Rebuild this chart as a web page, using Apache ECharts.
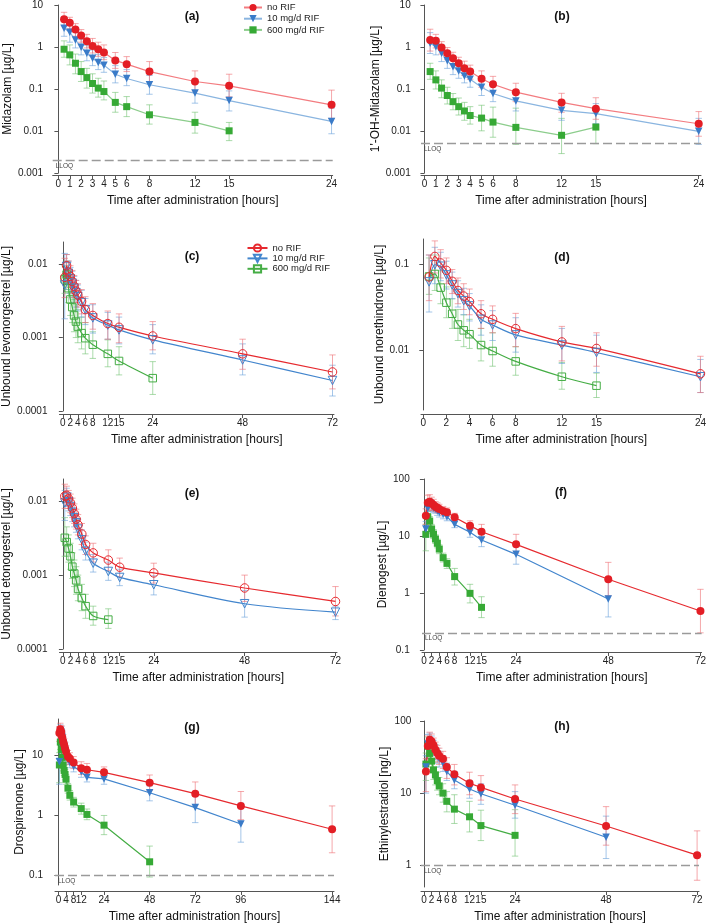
<!DOCTYPE html>
<html><head><meta charset="utf-8">
<script src="https://cdn.jsdelivr.net/npm/echarts@6/dist/echarts.min.js"></script>
<style>html,body{margin:0;padding:0;background:#fff}#c{width:709px;height:924px}</style>
</head><body><div id="c"></div>
<script>
// ---------------- DATA ----------------
const seriesNames = ['no RIF', '10 mg/d RIF', '600 mg/d RIF'];
const panelLabels = ['(a)', '(b)', '(c)', '(d)', '(e)', '(f)', '(g)', '(h)'];
const yNames = ['Midazolam [µg/L]', '1\'-OH-Midazolam [µg/L]', 'Unbound levonorgestrel [µg/L]', 'Unbound norethindrone [µg/L]',
  'Unbound etonogestrel [µg/L]', 'Dienogest [µg/L]', 'Drospirenone [µg/L]', 'Ethinylestradiol [ng/L]'];
const xName = 'Time after administration [hours]';
const LLOQ = [0.002, 0.005, null, null, null, 0.2, 0.1, 1];

const xTicks_ab = [0, 1, 2, 3, 4, 5, 6, 8, 12, 15, 24];
const xTicks_d = [0, 2, 4, 6, 8, 12, 15, 24];
const xTicks_72 = [0, 2, 4, 6, 8, 12, 15, 24, 48, 72];
const xTicks_g = [0, 4, 8, 12, 24, 48, 72, 96, 144];
const yTicks_ab = [0.001, 0.01, 0.1, 1, 10];
const yTicks_ce = [0.0001, 0.001, 0.01];
const yTicks_d = [0.01, 0.1];
const yTicks_f = [0.1, 1, 10, 100];
const yTicks_g = [0.1, 1, 10];
const yTicks_h = [1, 10, 100];

const t_ab = [0.5, 1, 1.5, 2, 2.5, 3, 3.5, 4, 5, 6, 8, 12, 15, 24];
const t_d = [0.5, 1, 1.5, 2, 2.5, 3, 3.5, 4, 5, 6, 8, 12, 15, 24];
const t_72 = [0.5, 1, 1.5, 2, 2.5, 3, 3.5, 4, 5, 6, 8, 12, 15, 24, 48, 72];
const t_g = [0.5, 1, 1.5, 2, 2.5, 3, 3.5, 4, 5, 6, 8, 12, 15, 24, 48, 72, 96, 144];

// (a) Midazolam
const A_red = [4.6, 3.8, 2.6, 1.87, 1.37, 1.06, 0.885, 0.74, 0.48, 0.39, 0.26, 0.151, 0.119, 0.042];
const A_redLo = [3.2, 2.7, 1.8, 1.3, 0.95, 0.72, 0.6, 0.5, 0.31, 0.26, 0.15, 0.09, 0.065, 0.02];
const A_redHi = [6.7, 5.1, 3.6, 2.6, 2.0, 1.6, 1.3, 1.12, 0.74, 0.59, 0.45, 0.27, 0.225, 0.094];
const A_blue = [2.8, 2.24, 1.47, 0.99, 0.71, 0.54, 0.43, 0.37, 0.224, 0.178, 0.126, 0.080, 0.053, 0.0169];
const A_blueLo = [1.8, 1.3, 0.95, 0.65, 0.47, 0.36, 0.29, 0.25, 0.14, 0.12, 0.075, 0.046, 0.03, 0.0086];
const A_blueHi = [4.3, 3.5, 2.3, 1.5, 1.1, 0.85, 0.67, 0.56, 0.36, 0.29, 0.21, 0.135, 0.09, 0.035];
const A_green = [0.885, 0.65, 0.41, 0.26, 0.187, 0.135, 0.105, 0.087, 0.048, 0.038, 0.0243, 0.016, 0.0101];
const A_greenLo = [0.57, 0.375, 0.23, 0.151, 0.105, 0.08, 0.064, 0.055, 0.028, 0.022, 0.0146, 0.0089, 0.0059];
const A_greenHi = [1.4, 1.12, 0.68, 0.45, 0.31, 0.23, 0.18, 0.155, 0.083, 0.066, 0.042, 0.028, 0.016];

// (b) 1'-OH-Midazolam
const B_red = [1.47, 1.40, 0.97, 0.71, 0.54, 0.41, 0.31, 0.26, 0.175, 0.13, 0.084, 0.048, 0.034, 0.0149];
const B_redLo = [0.8, 0.95, 0.68, 0.5, 0.38, 0.29, 0.21, 0.17, 0.11, 0.085, 0.05, 0.028, 0.019, 0.0075];
const B_redHi = [2.65, 2.0, 1.34, 0.97, 0.75, 0.57, 0.46, 0.37, 0.27, 0.2, 0.137, 0.079, 0.062, 0.029];
const B_blue = [1.23, 1.02, 0.71, 0.47, 0.34, 0.27, 0.205, 0.17, 0.11, 0.078, 0.052, 0.031, 0.026, 0.0098];
const B_blueLo = [0.7, 0.65, 0.45, 0.31, 0.22, 0.18, 0.14, 0.11, 0.07, 0.05, 0.03, 0.018, 0.015, 0.0048];
const B_blueHi = [2.2, 1.6, 1.1, 0.72, 0.52, 0.4, 0.3, 0.25, 0.17, 0.12, 0.085, 0.05, 0.045, 0.02];
const B_green = [0.26, 0.165, 0.105, 0.070, 0.050, 0.038, 0.030, 0.0234, 0.0203, 0.0163, 0.0122, 0.0079, 0.0124];
const B_greenLo = [0.17, 0.1, 0.062, 0.044, 0.032, 0.024, 0.018, 0.0146, 0.0101, 0.0071, 0.0048, 0.0029, 0.005];
const B_greenHi = [0.41, 0.27, 0.165, 0.11, 0.078, 0.061, 0.048, 0.038, 0.041, 0.037, 0.035, 0.02, 0.027];

// (c) Unbound levonorgestrel
const C_red = [0.0066, 0.0095, 0.0078, 0.0068, 0.0058, 0.0050, 0.0043, 0.0038, 0.0031, 0.0024, 0.0020, 0.00155, 0.00138, 0.00105, 0.0006, 0.00034];
const C_redLo = [0.0035, 0.0065, 0.0055, 0.0048, 0.004, 0.0035, 0.003, 0.0026, 0.0021, 0.0016, 0.0013, 0.00095, 0.00085, 0.00068, 0.00037, 0.0002];
const C_redHi = [0.012, 0.0135, 0.011, 0.0095, 0.0082, 0.007, 0.006, 0.0054, 0.0045, 0.0036, 0.0029, 0.0023, 0.0021, 0.00165, 0.00095, 0.00058];
const C_blue = [0.0052, 0.0093, 0.0075, 0.0063, 0.0055, 0.0047, 0.0041, 0.0036, 0.0030, 0.0024, 0.00185, 0.00148, 0.00127, 0.00093, 0.000495, 0.00026];
const C_blueLo = [0.0018, 0.0055, 0.0045, 0.004, 0.0035, 0.003, 0.0026, 0.0023, 0.0019, 0.0015, 0.00115, 0.00095, 0.00082, 0.0006, 0.00031, 0.00016];
const C_blueHi = [0.014, 0.0135, 0.011, 0.009, 0.008, 0.0068, 0.006, 0.0052, 0.0044, 0.0034, 0.0028, 0.0022, 0.0019, 0.0015, 0.00082, 0.00042];
const C_green = [0.0062, 0.0072, 0.0047, 0.0033, 0.0026, 0.0020, 0.00165, 0.00141, 0.00115, 0.00098, 0.0008, 0.0006, 0.00048, 0.00028];
const C_greenLo = [0.004, 0.0045, 0.003, 0.002, 0.0016, 0.0012, 0.001, 0.00085, 0.0007, 0.0006, 0.00052, 0.0004, 0.00031, 0.000168];
const C_greenHi = [0.0095, 0.011, 0.0075, 0.0055, 0.0042, 0.0033, 0.0028, 0.0024, 0.0019, 0.0016, 0.0012, 0.00093, 0.00075, 0.00047];

// (d) Unbound norethindrone
const D_red = [0.072, 0.125, 0.105, 0.086, 0.064, 0.05, 0.043, 0.037, 0.0267, 0.023, 0.0179, 0.0125, 0.0105, 0.0053];
const D_redLo = [0.038, 0.08, 0.07, 0.06, 0.046, 0.035, 0.03, 0.026, 0.018, 0.016, 0.011, 0.0075, 0.0065, 0.0032];
const D_redHi = [0.13, 0.19, 0.15, 0.12, 0.088, 0.07, 0.06, 0.052, 0.038, 0.033, 0.027, 0.019, 0.016, 0.0085];
const D_blue = [0.063, 0.1, 0.096, 0.076, 0.058, 0.046, 0.038, 0.033, 0.023, 0.0197, 0.0151, 0.0115, 0.0094, 0.0049];
const D_blueLo = [0.028, 0.06, 0.065, 0.052, 0.04, 0.032, 0.026, 0.022, 0.015, 0.013, 0.0095, 0.007, 0.0055, 0.0032];
const D_blueHi = [0.13, 0.16, 0.14, 0.11, 0.082, 0.065, 0.053, 0.046, 0.034, 0.029, 0.024, 0.018, 0.015, 0.0078];
const D_green = [0.073, 0.078, 0.054, 0.036, 0.0267, 0.02, 0.0171, 0.0154, 0.0115, 0.0098, 0.0074, 0.0049, 0.00385];
const D_greenLo = [0.045, 0.05, 0.035, 0.024, 0.018, 0.013, 0.011, 0.0105, 0.0075, 0.0065, 0.0051, 0.0035, 0.0028];
const D_greenHi = [0.12, 0.13, 0.085, 0.055, 0.04, 0.03, 0.026, 0.023, 0.018, 0.016, 0.011, 0.0072, 0.0054];

// (e) Unbound etonogestrel
const E_red = [0.0117, 0.012, 0.0108, 0.0095, 0.0081, 0.0068, 0.0057, 0.0048, 0.0036, 0.0026, 0.002, 0.0016, 0.00128, 0.00107, 0.00067, 0.00044];
const E_redLo = [0.008, 0.0088, 0.008, 0.007, 0.006, 0.005, 0.0042, 0.0035, 0.0026, 0.0019, 0.0015, 0.00115, 0.00095, 0.00078, 0.00044, 0.00028];
const E_redHi = [0.017, 0.016, 0.014, 0.0125, 0.011, 0.0092, 0.0078, 0.0066, 0.005, 0.0034, 0.0027, 0.0022, 0.0017, 0.00145, 0.001, 0.0007];
const E_blue = [0.0095, 0.0113, 0.0098, 0.0085, 0.0071, 0.006, 0.0051, 0.0042, 0.003, 0.0021, 0.00145, 0.00112, 0.00093, 0.00074, 0.00041, 0.000315];
const E_blueLo = [0.0055, 0.0085, 0.0074, 0.0064, 0.0053, 0.0045, 0.0038, 0.0031, 0.0022, 0.0016, 0.0011, 0.00085, 0.00072, 0.00054, 0.00027, 0.00025];
const E_blueHi = [0.014, 0.015, 0.013, 0.011, 0.0095, 0.008, 0.0068, 0.0057, 0.0041, 0.0028, 0.0019, 0.0015, 0.0012, 0.00098, 0.00062, 0.00038];
const E_green = [0.0032, 0.0028, 0.0023, 0.0018, 0.0013, 0.00105, 0.00085, 0.00065, 0.00049, 0.00038, 0.00028, 0.00025];
const E_greenLo = [0.0018, 0.0018, 0.0015, 0.0012, 0.0009, 0.0007, 0.00055, 0.00045, 0.00033, 0.00026, 0.00021, 0.00019];
const E_greenHi = [0.006, 0.0045, 0.0035, 0.0027, 0.002, 0.0016, 0.0013, 0.001, 0.00075, 0.00055, 0.00038, 0.00035];

// (f) Dienogest
const F_red = [22.7, 38.5, 40, 37.5, 35, 32.6, 31.4, 29.8, 27.5, 26, 21.3, 15.2, 11.9, 7.14, 1.74, 0.483];
const F_redLo = [16, 28, 30, 29, 28, 27, 26, 25, 23, 22, 18, 12.5, 9.5, 5.0, 0.9, 0.2];
const F_redHi = [30, 52, 53, 48, 44, 40, 38, 36, 33, 31, 25, 18.5, 16, 10.7, 3.45, 1.16];
const F_blue = [13.3, 30.6, 35.9, 34, 31.4, 29.8, 27.8, 26, 24, 21.8, 16, 11.6, 8.5, 4.77, 0.785];
const F_blueLo = [9.5, 23, 28, 27, 26, 25, 23, 21.5, 20, 18.5, 14, 9.5, 6.5, 3.2, 0.38];
const F_blueHi = [18, 40, 45, 42, 38, 36, 33, 31, 28, 25, 18.5, 13.5, 10.5, 6.5, 1.6];
const F_green = [10.7, 21.8, 18.3, 13.3, 10.8, 8.86, 7.45, 5.9, 4.17, 3.31, 1.94, 0.986, 0.56];
const F_greenLo = [5.5, 17, 15, 11, 9, 7.4, 6.2, 4.9, 3.5, 2.7, 1.38, 0.67, 0.37];
const F_greenHi = [16, 27, 22, 16, 13, 10.5, 8.8, 7, 5, 4, 2.7, 1.42, 0.86];

// (g) Drospirenone
const G_red = [23.5, 27, 24, 20, 17, 15, 13, 11.5, 9.5, 8.8, 7.6, 6.1, 5.75, 5.2, 3.5, 2.3, 1.44, 0.59];
const G_redLo = [17, 20, 18, 15, 13, 11.5, 10, 9, 7.5, 7, 6, 4.8, 4.5, 4.3, 2.6, 1.5, 0.85, 0.24];
const G_redHi = [30, 34, 31, 26, 22, 19, 16.5, 14.5, 12, 11, 9.5, 7.8, 7.3, 6.4, 4.7, 3.6, 2.5, 1.44];
const G_blue = [7.8, 25, 24, 20, 16, 14, 12, 10, 8.6, 7.6, 6.5, 5.3, 4.3, 4.05, 2.38, 1.35, 0.72];
const G_blueLo = [3.3, 19, 18, 15, 12.5, 11, 9.5, 8, 7, 6.2, 5.3, 4.3, 3.6, 3.3, 1.75, 0.76, 0.36];
const G_blueHi = [9, 32, 30, 25, 20, 17, 14.5, 12, 10, 9, 7.8, 6.3, 5.2, 5.0, 3.1, 2.1, 1.6];
const G_green = [6.9, 16.5, 12.5, 9.2, 6.9, 5.6, 4.8, 4.0, 2.84, 2.16, 1.67, 1.30, 1.04, 0.69, 0.17];
const G_greenLo = [3.5, 12.5, 9.5, 7.2, 5.5, 4.6, 3.9, 3.3, 2.35, 1.8, 1.38, 1.05, 0.85, 0.48, 0.095];
const G_greenHi = [11, 21, 16, 11.5, 8.5, 6.8, 5.8, 4.8, 3.4, 2.6, 2.0, 1.6, 1.28, 1.0, 0.31];

// (h) Ethinylestradiol
const H_red = [20, 45, 55, 52, 46, 40, 36, 33, 30, 23, 18.3, 13.7, 12, 8.3, 3.5, 1.38];
const H_redLo = [10.5, 30, 40, 38, 34, 30, 27, 25, 22, 16, 13, 9.5, 8, 5.2, 1.9, 0.62];
const H_redHi = [30, 62, 70, 66, 58, 51, 46, 42, 38, 31, 25, 19.5, 17.5, 13, 6.5, 3.0];
const H_blue = [23, 48, 52, 48, 42, 37, 33, 30, 26, 20, 15.2, 11.4, 9.8, 6.8, 2.45];
const H_blueLo = [10, 33, 40, 37, 33, 29, 26, 23, 20, 15, 11.5, 8.5, 7, 4.5, 1.24];
const H_blueHi = [33, 65, 68, 62, 54, 47, 42, 38, 33, 26, 20, 15, 13.5, 10.5, 4.8];
const H_green = [25.3, 44.8, 35.5, 27.8, 21, 17.9, 14.9, 12.6, 10, 7.7, 6.0, 4.7, 3.55, 2.6];
const H_greenLo = [15, 30, 27, 21, 15.5, 13, 11, 9.5, 7.5, 5.5, 3.8, 2.9, 2.2, 1.34];
const H_greenHi = [36, 60, 46, 36, 27, 23, 19.5, 16.5, 13.5, 10.5, 9.5, 7.7, 5.8, 5.9];

// ---------------- STYLE / LAYOUT ----------------
const FONT = '"Liberation Sans", Arial, sans-serif';
const AX = '#555';
const COL = {
  red:   {mark: '#e31e25', lineLight: '#f37c80', line: '#e62a2f', err: 'rgba(238,110,115,0.6)'},
  blue:  {mark: '#3a7bc8', lineLight: '#8ab5e0', line: '#4285cd', err: 'rgba(105,160,218,0.6)'},
  green: {mark: '#36a935', lineLight: '#8ccd8c', line: '#45ad45', err: 'rgba(115,195,115,0.6)'}
};

const panels = [
  {t: t_ab, red: [A_red, A_redLo, A_redHi], blue: [A_blue, A_blueLo, A_blueHi], green: [A_green, A_greenLo, A_greenHi], xT: xTicks_ab, yT: yTicks_ab, open: false, light: true},
  {t: t_ab, red: [B_red, B_redLo, B_redHi], blue: [B_blue, B_blueLo, B_blueHi], green: [B_green, B_greenLo, B_greenHi], xT: xTicks_ab, yT: yTicks_ab, open: false, light: true},
  {t: t_72, red: [C_red, C_redLo, C_redHi], blue: [C_blue, C_blueLo, C_blueHi], green: [C_green, C_greenLo, C_greenHi], xT: xTicks_72, yT: yTicks_ce, open: true},
  {t: t_d,  red: [D_red, D_redLo, D_redHi], blue: [D_blue, D_blueLo, D_blueHi], green: [D_green, D_greenLo, D_greenHi], xT: xTicks_d, yT: yTicks_d, open: true},
  {t: t_72, red: [E_red, E_redLo, E_redHi], blue: [E_blue, E_blueLo, E_blueHi], green: [E_green, E_greenLo, E_greenHi], xT: xTicks_72, yT: yTicks_ce, open: true},
  {t: t_72, red: [F_red, F_redLo, F_redHi], blue: [F_blue, F_blueLo, F_blueHi], green: [F_green, F_greenLo, F_greenHi], xT: xTicks_72, yT: yTicks_f, open: false},
  {t: t_g,  red: [G_red, G_redLo, G_redHi], blue: [G_blue, G_blueLo, G_blueHi], green: [G_green, G_greenLo, G_greenHi], xT: xTicks_g, yT: yTicks_g, open: false},
  {t: t_72, red: [H_red, H_redLo, H_redHi], blue: [H_blue, H_blueLo, H_blueHi], green: [H_green, H_greenLo, H_greenHi], xT: xTicks_72, yT: yTicks_h, open: false}
];

// grid geometry (pixels) and axis ranges
const layout = [
  {l: 52.7, r: 332.7, top: 5,   h: 168, yOff: 3.7, xOff: 2, xMin: -0.5, xMax: 24.1, yMin: 0.001,  yMax: 10,   yGap: 25, title: [192, 17]},
  {l: 421,  r: 701,   top: 5,   h: 168, yOff: 4.3, xOff: 2, xMin: -0.3, xMax: 24.2, yMin: 0.001,  yMax: 10,   yGap: 28, title: [562, 17]},
  {l: 55,   r: 334,   top: 242, h: 169, yOff: 6,   xOff: 3, xMin: -0.9, xMax: 72.4, yMin: 0.0001, yMax: 0.02, yGap: 35, title: [192, 257]},
  {l: 421,  r: 705,   top: 239, h: 171, yOff: 6,   xOff: 4, xMin: -0.2, xMax: 24.1, yMin: 0.002,  yMax: 0.2,  yGap: 26, title: [562, 258]},
  {l: 55,   r: 337,   top: 479, h: 170, yOff: 6,   xOff: 3, xMin: -0.9, xMax: 72.4, yMin: 0.0001, yMax: 0.02, yGap: 35, title: [192, 494]},
  {l: 422,  r: 703,   top: 479, h: 171, yOff: 6.3, xOff: 2, xMin: -0.5, xMax: 72.3, yMin: 0.1,    yMax: 100,  yGap: 26, title: [561, 493]},
  {l: 55,   r: 334,   top: 719, h: 168, yOff: 6,   xOff: 6, xMin: -1.8, xMax: 145,  yMin: 0.07,   yMax: 40,   yGap: 20, title: [192, 728]},
  {l: 421,  r: 699,   top: 721, h: 167, yOff: 3.7, xOff: 4, xMin: -0.8, xMax: 72.5, yMin: 0.5,    yMax: 100,  yGap: 24, title: [562, 727]}
];

const grids = [], xAxes = [], yAxes = [], series = [], graphics = [];

function errRenderer(color) {
  return function (params, api) {
    const x = api.value(0), lo = api.value(1), hi = api.value(2);
    const p1 = api.coord([x, lo]), p2 = api.coord([x, hi]);
    const w = 3.2;
    const st = {stroke: color, lineWidth: 1};
    return {type: 'group', children: [
      {type: 'line', shape: {x1: p1[0], y1: p1[1], x2: p2[0], y2: p2[1]}, style: st},
      {type: 'line', shape: {x1: p1[0] - w, y1: p1[1], x2: p1[0] + w, y2: p1[1]}, style: st},
      {type: 'line', shape: {x1: p2[0] - w, y1: p2[1], x2: p2[0] + w, y2: p2[1]}, style: st}
    ]};
  };
}

const markerDefs = {
  red:   {symbol: 'circle', rot: 0, size: 8, openSize: 8.5},
  blue:  {symbol: 'triangle', rot: 180, size: 7.5, openSize: 8.5},
  green: {symbol: 'rect', rot: 0, size: 7, openSize: 7.5}
};

panels.forEach((p, i) => {
  const L = layout[i];
  grids.push({left: L.l, top: L.top, width: L.r - L.l, height: L.h, containLabel: false});
  xAxes.push({
    type: 'value', gridIndex: i, min: L.xMin, max: L.xMax, offset: L.xOff,
    axisLine: {show: true, lineStyle: {color: AX, width: 1}},
    axisTick: {show: true, length: 4, lineStyle: {color: AX}, customValues: p.xT},
    axisLabel: {customValues: p.xT, margin: 4, fontSize: 10, color: '#222', fontFamily: FONT},
    splitLine: {show: false},
    name: xName, nameLocation: 'middle', nameGap: 20,
    nameTextStyle: {fontSize: 12, color: '#111', fontFamily: FONT}
  });
  yAxes.push({
    type: 'log', logBase: 10, gridIndex: i, min: L.yMin, max: L.yMax, offset: L.yOff,
    axisLine: {show: true, lineStyle: {color: AX, width: 1}},
    axisTick: {show: true, length: 4, lineStyle: {color: AX}, customValues: p.yT},
    axisLabel: {customValues: p.yT, margin: 6, fontSize: 10, color: '#222', fontFamily: FONT, formatter: v => String(+Number(v).toPrecision(6))},
    splitLine: {show: false},
    name: yNames[i], nameLocation: 'middle', nameGap: L.yGap,
    nameTextStyle: {fontSize: 12, color: '#111', fontFamily: FONT}
  });
  graphics.push({type: 'text', x: L.title[0], y: L.title[1], style: {text: panelLabels[i], font: 'bold 12px ' + FONT, fill: '#111', align: 'center', verticalAlign: 'middle', textAlign: 'center', textVerticalAlign: 'middle'}});

  ['green', 'blue', 'red'].forEach((key) => {
    const nameIdx = {red: 0, blue: 1, green: 2}[key];
    const [vals, lo, hi] = p[key];
    const c = COL[key];
    const m = markerDefs[key];
    series.push({
      type: 'custom', xAxisIndex: i, yAxisIndex: i, silent: true, z: 1,
      renderItem: errRenderer(c.err),
      encode: {x: 0, y: [1, 2]},
      data: vals.map((v, j) => [p.t[j], lo[j], hi[j]])
    });
    const s = {
      type: 'line', xAxisIndex: i, yAxisIndex: i, z: 3,
      name: p.open ? seriesNames[nameIdx] + ' (open)' : seriesNames[nameIdx],
      data: vals.map((v, j) => [p.t[j], v]),
      symbol: m.symbol, symbolRotate: m.rot,
      symbolSize: p.open ? m.openSize : m.size,
      smooth: p.open ? 0.3 : false,
      lineStyle: {width: 1.2, color: p.light ? c.lineLight : c.line},
      itemStyle: p.open ? {color: 'rgba(255,255,255,0)', borderColor: c.line, borderWidth: 1} : {color: c.mark, borderWidth: 0},
      emphasis: {disabled: true}
    };
    if (key === 'red' && LLOQ[i] != null) {
      s.markLine = {
        silent: true, symbol: ['none', 'none'], animation: false, precision: 6,
        data: [{yAxis: LLOQ[i]}],
        lineStyle: {type: [9, 4], color: '#9a9a9a', width: 1.3},
        label: {show: true, position: 'insideStartBottom', formatter: 'LLOQ', fontSize: 6.5, color: '#444', fontFamily: FONT, distance: [3, 2]}
      };
    }
    series.push(s);
  });
});

const chart = echarts.init(document.getElementById('c'), null, {renderer: 'canvas'});
chart.setOption({
  animation: false,
  backgroundColor: '#fff',
  grid: grids, xAxis: xAxes, yAxis: yAxes, series: series,
  graphic: graphics,
  legend: [
    {data: seriesNames, orient: 'vertical', left: 243, top: 2.5, padding: 0, itemWidth: 18, itemHeight: 9, itemGap: 1.2,
     selectedMode: false, textStyle: {fontSize: 9.5, color: '#222', fontFamily: FONT}},
    {data: seriesNames.map(n => n + ' (open)'), orient: 'vertical', left: 246.5, top: 243, padding: 0, itemWidth: 20, itemHeight: 9, itemGap: 0.4,
     selectedMode: false, formatter: n => n.replace(' (open)', ''), textStyle: {fontSize: 9.5, color: '#222', fontFamily: FONT}}
  ]
});
</script></body></html>
